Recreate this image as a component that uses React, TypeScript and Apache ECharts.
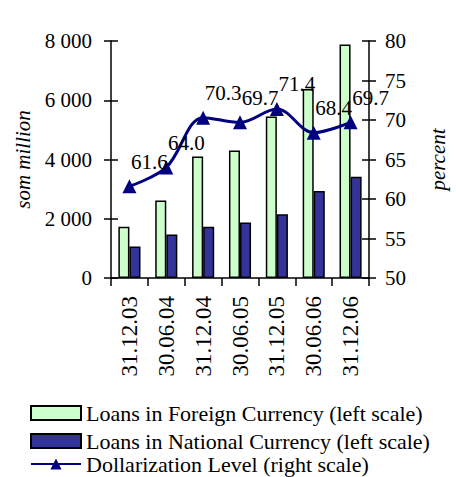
import React, { useEffect, useRef } from "react";
import * as echarts from "echarts";

const categories = ["31.12.03", "30.06.04", "31.12.04", "30.06.05", "31.12.05", "30.06.06", "31.12.06"];
const foreignLoans = [1730, 2620, 4100, 4300, 5450, 6380, 7880];
const nationalLoans = [1060, 1470, 1730, 1870, 2150, 2940, 3420];
const dollarization = [61.6, 64.0, 70.3, 69.7, 71.4, 68.4, 69.7];
const seriesNames = [
  "Loans in Foreign Currency (left scale)",
  "Loans in National Currency (left scale)",
  "Dollarization Level (right scale)",
];
const leftTicks = { min: 0, max: 8000, interval: 2000 };
const rightTicks = { min: 50, max: 80, interval: 5 };

const FONT = "Liberation Serif, Times New Roman, serif";

export default function App() {
  const ref = useRef<HTMLDivElement>(null);
  useEffect(() => {
    if (!ref.current) return;
    const chart = echarts.init(ref.current, null, { renderer: "svg" });
    const axisLine = { show: true, lineStyle: { color: "#000", width: 1.5 } };
    const legendBase = {
      orient: "horizontal",
      left: 30,
      padding: 0,
      itemWidth: 50,
      itemHeight: 14,
      itemTextGap: 7,
      textStyle: { fontFamily: FONT, fontSize: 22, color: "#000", lineHeight: 22 },
    };
    chart.setOption({
      animation: false,
      backgroundColor: "#fff",
      textStyle: { fontFamily: FONT, color: "#000" },
      grid: { left: 111, right: 66, top: 41, bottom: 199, containLabel: false },
      legend: [
        { ...legendBase, top: 402, data: [{ name: seriesNames[0], icon: "rect" }] },
        { ...legendBase, top: 430, data: [{ name: seriesNames[1], icon: "rect" }] },
        { ...legendBase, top: 453, data: [{ name: seriesNames[2] }] },
      ],
      xAxis: {
        type: "category",
        data: categories,
        axisLine,
        axisTick: { show: true, length: 8, lineStyle: { color: "#000", width: 1.5 } },
        axisLabel: {
          rotate: 90,
          margin: 18,
          fontFamily: FONT,
          fontSize: 23,
          color: "#000",
        },
      },
      yAxis: [
        {
          type: "value",
          position: "left",
          ...leftTicks,
          splitLine: { show: false },
          axisLine,
          axisTick: { show: true, length: 7, lineStyle: { color: "#000", width: 1.5 } },
          axisLabel: {
            margin: 19,
            fontFamily: FONT,
            fontSize: 21,
            color: "#000",
            formatter: (v: number) => String(v).replace(/\B(?=(\d{3})+(?!\d))/g, " "),
          },
          name: "som million",
          nameLocation: "middle",
          nameGap: 78,
          nameRotate: 90,
          nameTextStyle: { fontFamily: FONT, fontSize: 21, fontStyle: "italic", color: "#000" },
        },
        {
          type: "value",
          position: "right",
          ...rightTicks,
          splitLine: { show: false },
          axisLine,
          axisTick: { show: true, length: 7, lineStyle: { color: "#000", width: 1.5 } },
          axisLabel: { margin: 16, fontFamily: FONT, fontSize: 21, color: "#000" },
          name: "percent",
          nameLocation: "middle",
          nameGap: 58,
          nameRotate: 90,
          nameTextStyle: { fontFamily: FONT, fontSize: 21, fontStyle: "italic", color: "#000" },
        },
        {
          type: "value",
          position: "left",
          ...leftTicks,
          splitLine: { show: false },
          axisLine: { show: false },
          axisLabel: { show: false },
          axisTick: { show: true, inside: true, length: 7, lineStyle: { color: "#000", width: 1.5 } },
        },
        {
          type: "value",
          position: "right",
          ...rightTicks,
          splitLine: { show: false },
          axisLine: { show: false },
          axisLabel: { show: false },
          axisTick: { show: true, inside: true, length: 7, lineStyle: { color: "#000", width: 1.5 } },
        },
      ],
      series: [
        {
          name: seriesNames[0],
          type: "bar",
          yAxisIndex: 0,
          data: foreignLoans,
          barWidth: "30%",
          barGap: "0%",
          itemStyle: { color: "#CCFFCC", borderColor: "#000", borderWidth: 1.5 },
        },
        {
          name: seriesNames[1],
          type: "bar",
          yAxisIndex: 0,
          data: nationalLoans,
          barWidth: "30%",
          barGap: "0%",
          itemStyle: { color: "#333399", borderColor: "#000", borderWidth: 1.5 },
        },
        {
          name: seriesNames[2],
          type: "line",
          yAxisIndex: 1,
          data: dollarization,
          smooth: 0.35,
          symbol: "triangle",
          symbolSize: 14,
          lineStyle: { color: "#000080", width: 3 },
          itemStyle: { color: "#000080" },
          label: {
            show: true,
            position: "top",
            offset: [20, -2],
            fontFamily: FONT,
            fontSize: 21,
            color: "#000",
            formatter: (p: any) => Number(p.value).toFixed(1),
          },
          z: 5,
        },
      ],
    });
    return () => chart.dispose();
  }, []);
  return (
    <div
      ref={ref}
      style={{ position: "fixed", left: 0, top: 0, width: 456, height: 477 }}
    />
  );
}
